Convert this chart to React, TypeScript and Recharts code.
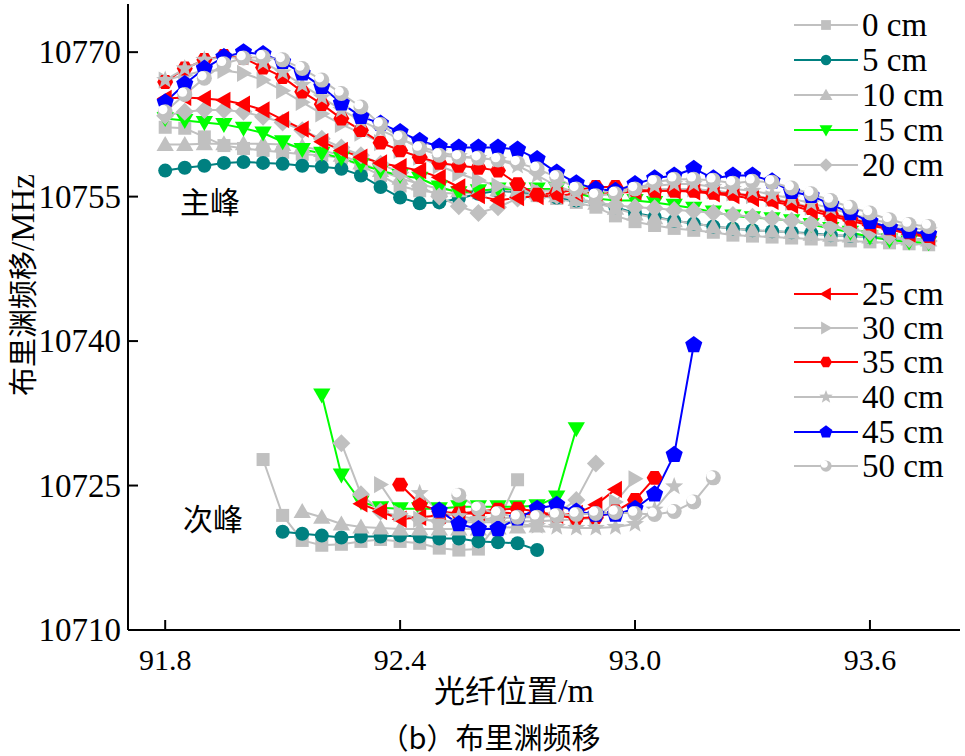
import React from "react";
import { LineChart, Line, XAxis, YAxis } from "recharts";

// positions along the fibre (m) for the main peak
const xMain = [
  91.8, 91.85, 91.9, 91.95, 92.0, 92.05, 92.1, 92.15, 92.2, 92.25,
  92.3, 92.35, 92.4, 92.45, 92.5, 92.55, 92.6, 92.65, 92.7, 92.75,
  92.8, 92.85, 92.9, 92.95, 93.0, 93.05, 93.1, 93.15, 93.2, 93.25,
  93.3, 93.35, 93.4, 93.45, 93.5, 93.55, 93.6, 93.65, 93.7, 93.75,
];

// main peak (主峰) Brillouin frequency shift, MHz
const main0 = [10762.2, 10762.1, 10761.2, 10760.3, 10760.0, 10759.8, 10759.6, 10759.4, 10759.3, 10759.0, 10758.2, 10757.2, 10756.1, 10755.6, 10755.4, 10755.3, 10755.4, 10755.6, 10755.4, 10755.1, 10754.8, 10754.4, 10753.9, 10753.0, 10752.4, 10752.0, 10751.7, 10751.5, 10751.3, 10751.0, 10750.9, 10750.8, 10750.7, 10750.6, 10750.5, 10750.4, 10750.3, 10750.2, 10750.1, 10750.0];
const main5 = [10757.7, 10758.0, 10758.2, 10758.5, 10758.6, 10758.5, 10758.4, 10758.2, 10758.1, 10757.9, 10757.2, 10756.0, 10754.9, 10754.3, 10754.4, 10754.8, 10755.3, 10755.6, 10755.5, 10755.3, 10754.9, 10754.6, 10754.4, 10753.9, 10753.3, 10752.9, 10752.5, 10752.2, 10751.9, 10751.7, 10751.5, 10751.4, 10751.3, 10751.2, 10751.0, 10750.9, 10750.8, 10750.7, 10750.6, 10750.5];
const main10 = [10760.4, 10760.4, 10760.5, 10760.5, 10760.5, 10760.5, 10760.4, 10760.2, 10759.8, 10759.3, 10758.5, 10757.7, 10756.9, 10756.3, 10755.8, 10755.6, 10755.6, 10755.7, 10755.6, 10755.4, 10755.1, 10754.7, 10754.3, 10753.8, 10753.2, 10752.8, 10752.5, 10752.2, 10751.9, 10751.7, 10751.5, 10751.4, 10751.3, 10751.1, 10751.0, 10750.9, 10750.8, 10750.7, 10750.6, 10750.5];
const main15 = [10763.1, 10762.9, 10762.7, 10762.5, 10762.1, 10761.6, 10760.7, 10759.9, 10759.5, 10759.0, 10758.3, 10757.7, 10757.2, 10756.9, 10756.0, 10755.4, 10755.6, 10755.8, 10755.8, 10755.8, 10755.8, 10755.4, 10754.8, 10754.6, 10754.6, 10754.4, 10754.1, 10753.8, 10753.4, 10753.0, 10752.8, 10752.7, 10752.5, 10752.1, 10751.7, 10751.3, 10750.8, 10750.5, 10750.3, 10750.2];
const main20 = [10763.4, 10763.8, 10764.0, 10764.0, 10763.8, 10763.3, 10762.7, 10761.9, 10761.0, 10760.1, 10759.3, 10758.4, 10757.5, 10756.1, 10755.0, 10754.0, 10753.3, 10753.9, 10754.8, 10755.3, 10755.1, 10754.8, 10754.4, 10754.1, 10753.9, 10753.8, 10753.6, 10753.5, 10753.3, 10753.1, 10752.9, 10752.7, 10752.5, 10752.2, 10751.9, 10751.6, 10751.3, 10750.9, 10750.6, 10750.4];
const main25 = [10765.2, 10765.3, 10765.2, 10765.0, 10764.6, 10764.0, 10763.0, 10762.0, 10760.7, 10759.8, 10759.1, 10758.5, 10758.1, 10757.7, 10757.0, 10756.0, 10755.1, 10754.6, 10754.9, 10755.0, 10755.1, 10755.3, 10755.4, 10755.4, 10755.5, 10755.6, 10755.6, 10755.5, 10755.3, 10755.1, 10754.8, 10754.5, 10754.1, 10753.5, 10753.0, 10752.5, 10752.0, 10751.6, 10751.1, 10750.8];
const main30 = [10767.1, 10767.6, 10768.1, 10768.1, 10767.8, 10767.1, 10766.0, 10764.8, 10763.6, 10762.5, 10761.6, 10760.6, 10759.8, 10759.1, 10758.2, 10757.4, 10756.7, 10756.1, 10755.8, 10755.6, 10755.6, 10755.6, 10755.6, 10755.6, 10755.7, 10755.8, 10755.8, 10755.8, 10755.6, 10755.4, 10755.1, 10754.8, 10754.4, 10753.9, 10753.3, 10752.8, 10752.3, 10751.9, 10751.5, 10751.1];
const main35 = [10766.9, 10768.3, 10769.2, 10769.6, 10769.4, 10768.4, 10767.4, 10765.9, 10764.6, 10763.1, 10761.9, 10760.6, 10759.8, 10759.1, 10758.5, 10758.2, 10758.0, 10757.7, 10756.3, 10755.2, 10755.4, 10755.7, 10756.0, 10756.0, 10755.7, 10755.6, 10755.6, 10755.6, 10755.4, 10755.3, 10755.1, 10754.7, 10754.3, 10753.8, 10753.2, 10752.7, 10752.2, 10751.7, 10751.3, 10750.9];
const main40 = [10767.1, 10768.3, 10769.2, 10769.5, 10769.4, 10768.9, 10767.9, 10766.6, 10765.3, 10764.0, 10762.9, 10761.9, 10761.0, 10760.2, 10759.6, 10759.2, 10759.0, 10758.8, 10758.2, 10757.2, 10756.1, 10755.4, 10755.4, 10755.6, 10755.9, 10756.1, 10756.3, 10756.3, 10756.0, 10755.8, 10755.6, 10755.2, 10754.8, 10754.3, 10753.8, 10753.2, 10752.7, 10752.2, 10751.8, 10751.5];
const main45 = [10764.8, 10766.7, 10768.3, 10769.5, 10770.0, 10769.8, 10769.0, 10767.8, 10766.4, 10764.7, 10763.3, 10762.6, 10761.7, 10760.8, 10760.2, 10760.1, 10760.1, 10760.1, 10759.9, 10758.9, 10757.5, 10756.4, 10755.8, 10755.6, 10756.3, 10756.9, 10757.2, 10757.9, 10756.9, 10757.2, 10757.2, 10756.6, 10755.5, 10755.1, 10754.2, 10753.3, 10752.4, 10751.8, 10751.4, 10751.1];
const main50 = [10763.8, 10765.6, 10767.3, 10768.8, 10769.4, 10769.5, 10769.2, 10768.3, 10767.1, 10765.7, 10764.3, 10762.5, 10761.1, 10760.0, 10759.3, 10759.1, 10759.0, 10758.8, 10758.5, 10757.9, 10757.0, 10755.8, 10755.1, 10755.3, 10755.8, 10756.5, 10756.8, 10756.8, 10756.7, 10756.4, 10756.6, 10756.5, 10755.9, 10755.3, 10754.6, 10753.9, 10753.3, 10752.6, 10752.1, 10751.9];

// secondary peak (次峰) positions and shifts
const sub0X = [92.05, 92.1, 92.15, 92.2, 92.25, 92.3, 92.35, 92.4, 92.45, 92.5, 92.55, 92.6, 92.65, 92.7];
const sub0 = [10727.7, 10721.9, 10719.3, 10718.8, 10718.9, 10719.2, 10719.4, 10719.2, 10719.0, 10718.5, 10718.3, 10718.4, 10721.2, 10725.6];
const sub5X = [92.1, 92.15, 92.2, 92.25, 92.3, 92.35, 92.4, 92.45, 92.5, 92.55, 92.6, 92.65, 92.7, 92.75];
const sub5 = [10720.2, 10720.0, 10719.8, 10719.6, 10719.7, 10719.7, 10719.8, 10719.7, 10719.5, 10719.5, 10719.2, 10719.1, 10719.0, 10718.3];
const sub10X = [92.15, 92.2, 92.25, 92.3, 92.35, 92.4, 92.45, 92.5, 92.55, 92.6, 92.65, 92.7, 92.75];
const sub10 = [10722.3, 10721.7, 10721.0, 10720.7, 10720.6, 10720.5, 10720.5, 10720.5, 10720.5, 10720.5, 10720.6, 10720.7, 10720.8];
const sub15X = [92.2, 92.25, 92.3, 92.35, 92.4, 92.45, 92.5, 92.55, 92.6, 92.65, 92.7, 92.75, 92.8, 92.85];
const sub15 = [10734.4, 10726.1, 10723.3, 10722.7, 10722.6, 10722.6, 10722.6, 10722.8, 10722.8, 10722.8, 10722.8, 10722.9, 10723.8, 10730.9];
const sub20X = [92.25, 92.3, 92.35, 92.4, 92.45, 92.5, 92.55, 92.6, 92.65, 92.7, 92.75, 92.8, 92.85, 92.9];
const sub20 = [10729.4, 10724.1, 10722.3, 10721.8, 10721.5, 10721.3, 10721.3, 10721.5, 10721.6, 10721.7, 10721.9, 10722.1, 10723.5, 10727.3];
const sub25X = [92.3, 92.35, 92.4, 92.45, 92.5, 92.55, 92.6, 92.65, 92.7, 92.75, 92.8, 92.85, 92.9, 92.95];
const sub25 = [10723.1, 10722.3, 10721.5, 10721.7, 10721.9, 10722.1, 10722.1, 10722.2, 10722.1, 10722.0, 10721.9, 10722.1, 10723.0, 10724.6];
const sub30X = [92.35, 92.4, 92.45, 92.5, 92.55, 92.6, 92.65, 92.7, 92.75, 92.8, 92.85, 92.9, 92.95, 93.0];
const sub30 = [10725.1, 10722.1, 10721.5, 10721.3, 10721.2, 10721.2, 10721.2, 10721.3, 10721.3, 10721.4, 10721.5, 10721.6, 10723.3, 10725.7];
const sub35X = [92.4, 92.45, 92.5, 92.55, 92.6, 92.65, 92.7, 92.75, 92.8, 92.85, 92.9, 92.95, 93.0, 93.05];
const sub35 = [10725.1, 10723.1, 10722.3, 10722.1, 10722.3, 10722.5, 10722.6, 10722.3, 10721.9, 10721.6, 10721.7, 10722.3, 10723.5, 10725.8];
const sub40X = [92.45, 92.5, 92.55, 92.6, 92.65, 92.7, 92.75, 92.8, 92.85, 92.9, 92.95, 93.0, 93.05, 93.1];
const sub40 = [10724.2, 10722.3, 10721.8, 10721.5, 10721.3, 10721.0, 10720.8, 10720.7, 10720.6, 10720.6, 10720.7, 10721.0, 10722.5, 10724.9];
const sub45X = [92.5, 92.55, 92.6, 92.65, 92.7, 92.75, 92.8, 92.85, 92.9, 92.95, 93.0, 93.05, 93.1, 93.15];
const sub45 = [10722.4, 10721.0, 10720.5, 10720.5, 10721.6, 10722.6, 10723.0, 10722.3, 10722.0, 10722.0, 10722.6, 10724.1, 10728.2, 10739.6];
const sub50X = [92.55, 92.6, 92.65, 92.7, 92.75, 92.8, 92.85, 92.9, 92.95, 93.0, 93.05, 93.1, 93.15, 93.2];
const sub50 = [10724.0, 10722.6, 10722.1, 10721.7, 10721.7, 10721.9, 10722.0, 10722.1, 10722.2, 10722.1, 10722.0, 10722.3, 10723.3, 10725.8];

const xTicks = [91.8, 92.4, 93.0, 93.6];
const yTicks = [10710, 10725, 10740, 10755, 10770];

const GREY = "#C0C0C0";
const series = [
  { name: "0 cm", color: GREY, shape: "square", main: main0, subX: sub0X, sub: sub0 },
  { name: "5 cm", color: "#008080", shape: "circle", main: main5, subX: sub5X, sub: sub5 },
  { name: "10 cm", color: GREY, shape: "up", main: main10, subX: sub10X, sub: sub10 },
  { name: "15 cm", color: "#00FF00", shape: "down", main: main15, subX: sub15X, sub: sub15 },
  { name: "20 cm", color: GREY, shape: "diamond", main: main20, subX: sub20X, sub: sub20 },
  { name: "25 cm", color: "#FF0000", shape: "left", main: main25, subX: sub25X, sub: sub25 },
  { name: "30 cm", color: GREY, shape: "right", main: main30, subX: sub30X, sub: sub30 },
  { name: "35 cm", color: "#FF0000", shape: "hex", main: main35, subX: sub35X, sub: sub35 },
  { name: "40 cm", color: GREY, shape: "star", main: main40, subX: sub40X, sub: sub40 },
  { name: "45 cm", color: "#0000FF", shape: "pentagon", main: main45, subX: sub45X, sub: sub45 },
  { name: "50 cm", color: GREY, shape: "moon", main: main50, subX: sub50X, sub: sub50 },
];

const SERIF = "'Liberation Serif', 'Times New Roman', serif";
const CJK = "'Noto Sans CJK SC', sans-serif";

function poly(cx: number, cy: number, r: number, n: number, rot: number, inner?: number) {
  const pts: string[] = [];
  const count = inner ? n * 2 : n;
  for (let k = 0; k < count; k++) {
    const rr = inner && k % 2 === 1 ? inner : r;
    const a = rot + (k * 2 * Math.PI) / count;
    pts.push(`${cx + rr * Math.cos(a)},${cy + rr * Math.sin(a)}`);
  }
  return pts.join(" ");
}

function Marker({ shape, color, cx, cy, s = 1 }: any) {
  const up = -Math.PI / 2;
  switch (shape) {
    case "square":
      return <rect x={cx - 6.5 * s} y={cy - 6.5 * s} width={13 * s} height={13 * s} fill={color} />;
    case "circle":
      return <circle cx={cx} cy={cy} r={7 * s} fill={color} />;
    case "hex":
      return <polygon points={poly(cx, cy, 8 * s, 6, 0)} fill={color} />;
    case "up":
      return <polygon points={poly(cx, cy + 1.5 * s, 10 * s, 3, up)} fill={color} />;
    case "down":
      return <polygon points={poly(cx, cy - 1.5 * s, 10 * s, 3, Math.PI / 2)} fill={color} />;
    case "left":
      return <polygon points={poly(cx + 1.5 * s, cy, 10 * s, 3, Math.PI)} fill={color} />;
    case "right":
      return <polygon points={poly(cx - 1.5 * s, cy, 10 * s, 3, 0)} fill={color} />;
    case "diamond":
      return <polygon points={poly(cx, cy, 9 * s, 4, up)} fill={color} />;
    case "star":
      return <polygon points={poly(cx, cy, 9.5 * s, 5, up, 4 * s)} fill={color} />;
    case "pentagon":
      return <polygon points={poly(cx, cy, 9 * s, 5, up)} fill={color} />;
    case "moon":
      return (
        <g>
          <circle cx={cx} cy={cy} r={7.5 * s} fill={color} />
          <circle cx={cx - 2.3 * s} cy={cy - 2.3 * s} r={4.6 * s} fill="#fff" />
        </g>
      );
    default:
      return null;
  }
}

const makeDot = (shape: string, color: string) => (props: any) => {
  const { cx, cy, index } = props;
  if (cx == null || cy == null) return <g key={index} />;
  return (
    <g key={index}>
      <Marker shape={shape} color={color} cx={cx} cy={cy} />
    </g>
  );
};

const XTick = (props: any) => {
  const { x, y, payload } = props;
  return (
    <g>
      <line x1={x} y1={y} x2={x} y2={y - 10} stroke="#000" strokeWidth={2} />
      <text x={x} y={y + 40} textAnchor="middle" fontSize={30} fontFamily={SERIF} fill="#000">
        {payload.value.toFixed(1)}
      </text>
    </g>
  );
};

const YTick = (props: any) => {
  const { x, y, payload } = props;
  return (
    <g>
      <line x1={x} y1={y} x2={x + 10} y2={y} stroke="#000" strokeWidth={2} />
      <text x={x - 7} y={y + 11} textAnchor="end" fontSize={33} fontFamily={SERIF} fill="#000">
        {payload.value}
      </text>
    </g>
  );
};

function LegendRow({ item, top }: any) {
  return (
    <div style={{ position: "absolute", left: 792, top, height: 32, display: "flex", alignItems: "center" }}>
      <svg width={68} height={32}>
        <line x1={2} y1={16} x2={66} y2={16} stroke={item.color} strokeWidth={2} />
        <Marker shape={item.shape} color={item.color} cx={34} cy={16} s={0.75} />
      </svg>
      <span style={{ fontFamily: SERIF, fontSize: 33, lineHeight: "32px", marginLeft: 2, color: "#000" }}>
        {item.name}
      </span>
    </div>
  );
}

export default function App() {
  const legendTops = [9, 44, 79, 114, 149, 278, 312, 346, 381, 416, 450];
  return (
    <div style={{ position: "absolute", left: 0, top: 0, width: 965, height: 756, background: "#fff" }}>
      <LineChart width={965} height={756} margin={{ top: 4, right: 5, left: 0, bottom: 0 }}>
        <XAxis
          dataKey="x"
          type="number"
          domain={[91.705, 93.83]}
          ticks={xTicks}
          interval={0}
          tickSize={0}
          tickMargin={0}
          tickLine={false}
          tick={<XTick />}
          height={126}
          axisLine={{ stroke: "#000", strokeWidth: 2 }}
          allowDataOverflow
        />
        <XAxis xAxisId="top" orientation="top" type="number" domain={[91.705, 93.83]} tick={false} tickLine={false} height={0} axisLine={{ stroke: "#000", strokeWidth: 2 }} />
        <YAxis
          type="number"
          domain={[10710, 10775]}
          ticks={yTicks}
          interval={0}
          tickSize={0}
          tickMargin={0}
          tickLine={false}
          tick={<YTick />}
          width={128}
          axisLine={{ stroke: "#000", strokeWidth: 2 }}
          allowDataOverflow
        />
        <YAxis yAxisId="r" orientation="right" type="number" domain={[10710, 10775]} tick={false} tickLine={false} width={0} axisLine={{ stroke: "#000", strokeWidth: 2 }} />
        {series.map((s) => (
          <Line
            key={s.name + "-main"}
            data={s.main.map((v, i) => ({ x: xMain[i], y: v }))}
            dataKey="y"
            type="linear"
            stroke={s.color}
            strokeWidth={2}
            dot={makeDot(s.shape, s.color)}
            activeDot={false}
            isAnimationActive={false}
            legendType="none"
          />
        ))}
        {series.map((s) => (
          <Line
            key={s.name + "-sub"}
            data={s.sub.map((v, i) => ({ x: s.subX[i], y: v }))}
            dataKey="y"
            type="linear"
            stroke={s.color}
            strokeWidth={2}
            dot={makeDot(s.shape, s.color)}
            activeDot={false}
            isAnimationActive={false}
            legendType="none"
          />
        ))}
      </LineChart>

      {series.map((s, i) => (
        <LegendRow key={s.name} item={s} top={legendTops[i]} />
      ))}

      <div style={{ position: "absolute", left: 180, top: 183, fontFamily: CJK, fontSize: 30, lineHeight: "34px" }}>主峰</div>
      <div style={{ position: "absolute", left: 183, top: 500, fontFamily: CJK, fontSize: 30, lineHeight: "34px" }}>次峰</div>

      <div
        style={{
          position: "absolute",
          left: 22,
          top: 285,
          transform: "translate(-50%, -50%) rotate(-90deg)",
          whiteSpace: "nowrap",
          fontSize: 29,
          lineHeight: "32px",
        }}
      >
        <span style={{ fontFamily: CJK }}>布里渊频移</span>
        <span style={{ fontFamily: SERIF, fontSize: 33 }}>/MHz</span>
      </div>

      <div style={{ position: "absolute", left: 514, top: 690, transform: "translate(-50%, -50%)", whiteSpace: "nowrap", fontSize: 31, lineHeight: "34px" }}>
        <span style={{ fontFamily: CJK }}>光纤位置</span>
        <span style={{ fontFamily: SERIF, fontSize: 34 }}>/m</span>
      </div>

      <div style={{ position: "absolute", left: 490, top: 736, transform: "translate(-50%, -50%)", whiteSpace: "nowrap", fontSize: 29, lineHeight: "32px", fontFamily: CJK }}>
        （b）布里渊频移
      </div>
    </div>
  );
}
